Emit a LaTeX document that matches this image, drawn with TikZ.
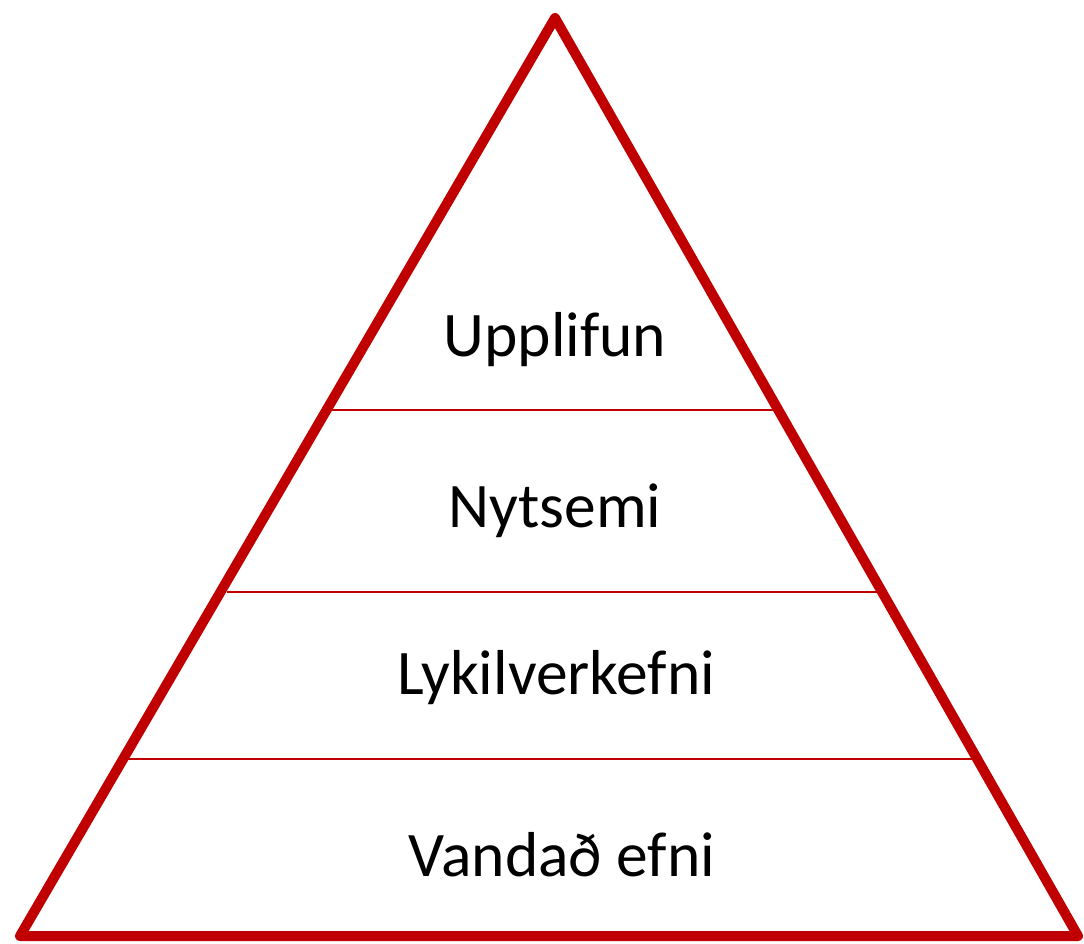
\documentclass[tikz,border=0pt]{standalone}
\usepackage{fontspec}
\setmainfont{Carlito}
\definecolor{pyrred}{HTML}{C00000}
\begin{document}
\begin{tikzpicture}[x=1pt,y=1pt,
  frame/.style={draw=pyrred,line width=10pt,line join=round},
  tier/.style={draw=pyrred,line width=1.6pt},
  lbl/.style={anchor=base,font=\fontsize{63.5}{70}\selectfont,text=black,inner sep=0pt}]
\useasboundingbox (0,0) rectangle (1084,943);
\coordinate (top) at (555,925);
\coordinate (bl) at (20,7);
\coordinate (br) at (1078,7);
\coordinate (l1) at (330,533); \coordinate (r1) at (780,533);
\coordinate (l2) at (227,351); \coordinate (r2) at (883,351);
\coordinate (l3) at (128,184); \coordinate (r3) at (982,184);
\draw[tier] (l1) -- (r1);
\draw[tier] (l2) -- (r2);
\draw[tier] (l3) -- (r3);
\draw[frame] (top) -- (br) -- (bl) -- cycle;
\node[lbl] (t1) at (555,586) {Upplifun};
\node[lbl] (t2) at (555,415) {Nytsemi};
\node[lbl] (t3) at (556,248) {Lykilverkefni};
\node[lbl] (t4) at (562,67) {Vandað efni};
\end{tikzpicture}
\end{document}
